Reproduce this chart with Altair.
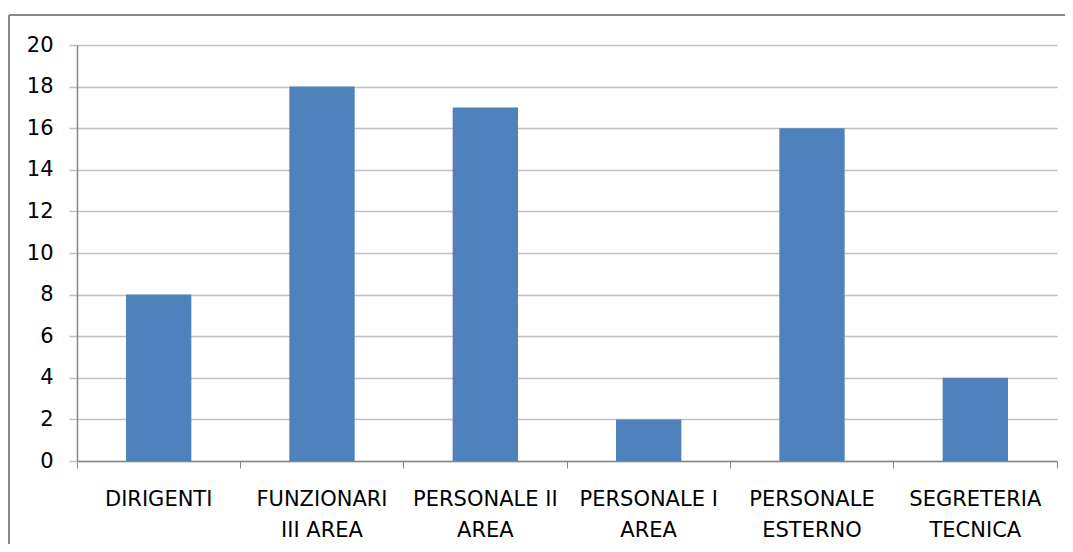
import altair as alt
import pandas as pd

categories = [
    "DIRIGENTI",
    "FUNZIONARI\nIII AREA",
    "PERSONALE II\nAREA",
    "PERSONALE I\nAREA",
    "PERSONALE\nESTERNO",
    "SEGRETERIA\nTECNICA",
]
values = [8, 18, 17, 2, 16, 4]
y_ticks = list(range(0, 21, 2))

df = pd.DataFrame({"categoria": categories, "valore": values})

FONT = "DejaVu Sans"

bars = alt.Chart(df).mark_bar(
    color="#4F81BD", width=alt.RelativeBandSize(0.4)
).encode(
    x=alt.X(
        "categoria:N",
        sort=categories,
        scale=alt.Scale(paddingInner=0, paddingOuter=0),
        axis=alt.Axis(
            title=None,
            labelAngle=0,
            labelExpr="split(datum.label, '\\n')",
            labelFont=FONT,
            labelFontSize=21,
            labelColor="#000000",
            labelLineHeight=31,
            labelPadding=20,
            labelBaseline="top",
            tickExtra=True,
            bandPosition=1,
            tickSize=7,
            tickColor="#888888",
            domainColor="#888888",
            domainWidth=1.5,
            grid=False,
        ),
    ),
    y=alt.Y(
        "valore:Q",
        scale=alt.Scale(domain=[0, 20], nice=False),
        axis=alt.Axis(
            title=None,
            values=y_ticks,
            labelFont=FONT,
            labelFontSize=21,
            labelColor="#000000",
            labelPadding=16,
            tickSize=8,
            tickColor="#c0c0c0",
            tickWidth=1.5,
            domainColor="#888888",
            domainWidth=1.5,
            grid=True,
            gridColor="#c0c0c0",
            gridWidth=1.5,
        ),
    ),
)

frame_top = alt.Chart(alt.Data(values=[{}])).mark_rule(
    color="#888888", strokeWidth=2
).encode(x=alt.value(-68), x2=alt.value(1030), y=alt.value(-30))

frame_left = alt.Chart(alt.Data(values=[{}])).mark_rule(
    color="#888888", strokeWidth=2
).encode(x=alt.value(-68), y=alt.value(-30), y2=alt.value(560))

chart = alt.layer(bars, frame_top, frame_left).properties(
    width=980,
    height=416,
    autosize=alt.AutoSizeParams(type="none"),
    padding={"left": 69, "top": 37, "right": 8, "bottom": 83},
).configure_view(stroke=None)

chart.save("out.html", embed_options={"renderer": "svg", "actions": False})
